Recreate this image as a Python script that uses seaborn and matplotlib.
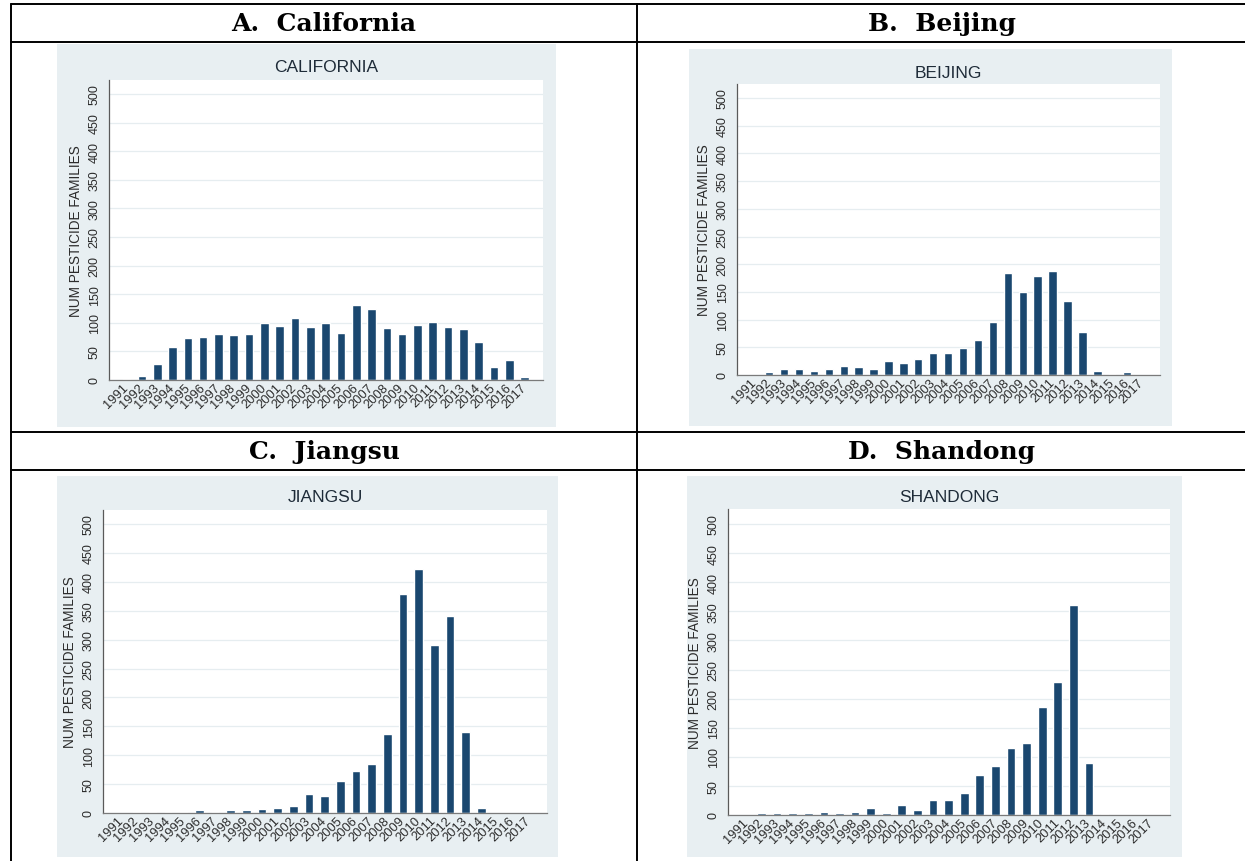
import matplotlib
matplotlib.use("Agg")
import matplotlib.pyplot as plt
import seaborn as sns
from matplotlib.patches import Rectangle
from matplotlib.lines import Line2D

# values (number of pesticide families by year)
years = [str(y) for y in range(1991, 2018)]
california = [1, 7, 28, 58, 74, 75, 81, 78, 80, 100, 94, 108, 93, 100, 83, 131, 125,
              91, 81, 97, 102, 92, 90, 66, 23, 35, 6]
beijing = [0, 5, 11, 10, 7, 10, 17, 15, 11, 26, 22, 29, 39, 40, 49, 63, 96,
           184, 149, 178, 187, 134, 78, 8, 2, 5, 0]
jiangsu = [0, 1, 2, 2, 2, 5, 1, 5, 5, 7, 9, 12, 33, 30, 56, 73, 84,
           136, 379, 423, 291, 341, 140, 8, 0, 0, 0]
shandong = [0, 3, 4, 3, 4, 5, 4, 5, 12, 4, 18, 9, 26, 26, 37, 68, 84,
            115, 124, 185, 229, 360, 89, 1, 0.5, 0.5, 0]

headers = ["A.  California", "B.  Beijing", "C.  Jiangsu", "D.  Shandong"]
titles = ["CALIFORNIA", "BEIJING", "JIANGSU", "SHANDONG"]
yticks = list(range(0, 501, 50))

sns.set_style("white")
plt.rcParams['font.family'] = ['Liberation Sans', 'DejaVu Sans']

W, H = 1245, 862
fig = plt.figure(figsize=(W / 100, H / 100), dpi=100)
fig.patch.set_facecolor("white")

BAR = "#1a476f"
BG = "#e8eff2"
TXT = "#2b2b2b"
YMAX = 525


def box(l, t, r, b):
    # pixel box -> figure fraction [left, bottom, width, height]
    return [l / W, 1 - b / H, (r - l) / W, (b - t) / H]


# layout in pixels: header centre, panel background, plot area (left, right, zero line, px per unit), title y
layout = [
    dict(head=(324, 24), bg=(57, 45, 556, 428), plot=(109, 543, 381, 0.572), ty=68),
    dict(head=(942, 24), bg=(689, 50, 1172, 427), plot=(737, 1160, 376, 0.554), ty=74),
    dict(head=(324, 452), bg=(57, 477, 558, 858), plot=(103, 547, 814, 0.578), ty=498),
    dict(head=(942, 452), bg=(687, 477, 1182, 858), plot=(728, 1170, 816, 0.582), ty=498),
]

for vals, head, title, lay in zip([california, beijing, jiangsu, shandong], headers, titles, layout):
    l, t, r, b = lay["bg"]
    fig.add_artist(Rectangle((l / W, 1 - b / H), (r - l) / W, (b - t) / H,
                             transform=fig.transFigure, facecolor=BG, edgecolor="none", zorder=-5))

    pl, pr, pb, scale = lay["plot"]
    ax = fig.add_axes(box(pl, pb - YMAX * scale, pr, pb))
    sns.barplot(x=years, y=vals, color=BAR, saturation=1, width=0.56, ax=ax)
    ax.set_xlim(-1.15, 27.2)
    ax.set_ylim(0, YMAX)
    ax.set_facecolor("white")
    ax.set_yticks(yticks)
    ax.yaxis.grid(True, color="#e6edf0", lw=0.9)
    ax.set_axisbelow(True)
    for s in ["top", "right"]:
        ax.spines[s].set_visible(False)
    ax.spines["left"].set_color("#5a5a5a")
    ax.spines["bottom"].set_color("#7a7a7a")
    ax.spines["left"].set_linewidth(0.9)
    ax.spines["bottom"].set_linewidth(0.9)
    ax.tick_params(axis="y", labelrotation=90, length=4, width=0.8, color="#5a5a5a",
                   pad=2, labelsize=9, labelcolor=TXT)
    ax.tick_params(axis="x", length=0, pad=4, labelsize=9.3, labelcolor=TXT)
    for lbl in ax.get_xticklabels():
        lbl.set_rotation(45)
        lbl.set_ha("right")
        lbl.set_va("center")
        lbl.set_rotation_mode("anchor")
    for lbl in ax.get_yticklabels():
        lbl.set_va("center")
    ax.set_xlabel("")
    ax.set_ylabel("NUM PESTICIDE FAMILIES", fontsize=9.8, color=TXT, labelpad=4)

    fig.text((pl + pr) / 2 / W, 1 - lay["ty"] / H, title, ha="center", va="center",
             fontsize=12.5, color="#1e2b38")

    hx, hy = lay["head"]
    fig.text(hx / W, 1 - hy / H, head, ha="center", va="center", fontsize=18,
             family="DejaVu Serif", weight="bold", color="black")

# table rules
for y in [5, 43, 433, 471]:
    fig.add_artist(Line2D([11 / W, 1], [1 - y / H, 1 - y / H], transform=fig.transFigure,
                          color="black", lw=1.4))
for x in [11, 637]:
    fig.add_artist(Line2D([x / W, x / W], [1 - 5 / H, 0], transform=fig.transFigure,
                          color="black", lw=1.4))

fig.savefig("out.png", dpi=100)
